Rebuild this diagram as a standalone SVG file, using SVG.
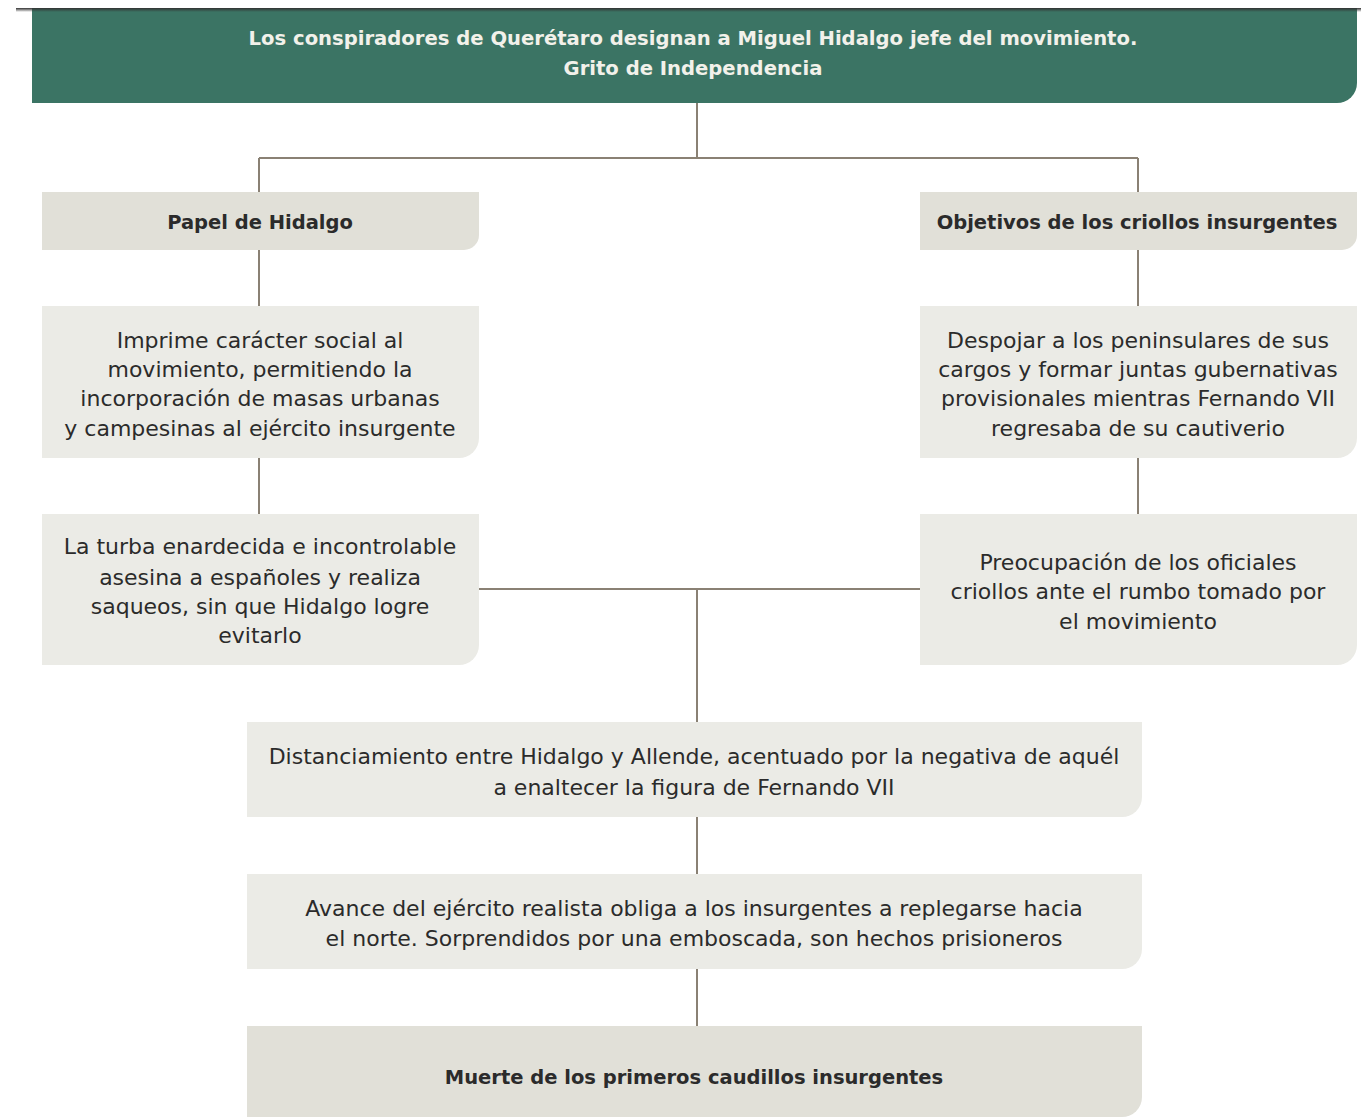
<svg xmlns="http://www.w3.org/2000/svg" width="1363" height="1117" viewBox="0 0 1363 1117">
<style>
.t{font-family:"DejaVu Sans","Noto Sans","Liberation Sans",sans-serif;font-size:22px;fill:#2b2b2b;text-anchor:middle}
.b{font-weight:bold;font-size:19.5px}
.h{font-family:"DejaVu Sans","Noto Sans","Liberation Sans",sans-serif;font-size:19.6px;font-weight:bold;fill:#f2f1ea;text-anchor:middle}
.light{fill:#ebebe6}
.dark{fill:#e1e0d8}
.c{stroke:#8a8174;stroke-width:2;fill:none}
</style>
<defs>
<linearGradient id="sh" x1="0" y1="0" x2="0" y2="1">
<stop offset="0" stop-color="#333"/>
<stop offset="1" stop-color="#333" stop-opacity="0"/>
</linearGradient>
</defs>
<rect width="1363" height="1117" fill="#fff"/>
<g id="connectors">
<path class="c" d="M697 103V158M259 158H1138M259 158V192M1138 158V192"/>
<path class="c" d="M259 250V306M259 458V514M1138 250V306M1138 458V514"/>
<path class="c" d="M479 589H920M697 589V722M697 817V874M697 969V1026"/>
</g>
<g id="header">
<path d="M32 8H1357V83A20 20 0 0 1 1337 103H32Z" fill="#3b7464"/>
<rect x="16" y="8" width="1345" height="4" fill="url(#sh)"/>
<text class="h" x="693" y="45">Los conspiradores de Querétaro designan a Miguel Hidalgo jefe del movimiento.</text>
<text class="h" x="693" y="75">Grito de Independencia</text>
</g>
<g id="papel">
<path class="dark" d="M42 192H479V235A15 15 0 0 1 464 250H42Z"/>
<text class="t b" x="260" y="229">Papel de Hidalgo</text>
</g>
<g id="objetivos">
<path class="dark" d="M920 192H1357V235A15 15 0 0 1 1342 250H920Z"/>
<text class="t b" x="1137" y="229">Objetivos de los criollos insurgentes</text>
</g>
<g id="imprime">
<path class="light" d="M42 306H479V438A20 20 0 0 1 459 458H42Z"/>
<text class="t" x="260" y="348">Imprime carácter social al</text>
<text class="t" x="260" y="377">movimiento, permitiendo la</text>
<text class="t" x="260" y="406">incorporación de masas urbanas</text>
<text class="t" x="260" y="436">y campesinas al ejército insurgente</text>
</g>
<g id="despojar">
<path class="light" d="M920 306H1357V438A20 20 0 0 1 1337 458H920Z"/>
<text class="t" x="1138" y="348">Despojar a los peninsulares de sus</text>
<text class="t" x="1138" y="377">cargos y formar juntas gubernativas</text>
<text class="t" x="1138" y="406">provisionales mientras Fernando VII</text>
<text class="t" x="1138" y="436">regresaba de su cautiverio</text>
</g>
<g id="turba">
<path class="light" d="M42 514H479V645A20 20 0 0 1 459 665H42Z"/>
<text class="t" x="260" y="554">La turba enardecida e incontrolable</text>
<text class="t" x="260" y="585">asesina a españoles y realiza</text>
<text class="t" x="260" y="614">saqueos, sin que Hidalgo logre</text>
<text class="t" x="260" y="643">evitarlo</text>
</g>
<g id="preocupacion">
<path class="light" d="M920 514H1357V645A20 20 0 0 1 1337 665H920Z"/>
<text class="t" x="1138" y="570">Preocupación de los oficiales</text>
<text class="t" x="1138" y="599">criollos ante el rumbo tomado por</text>
<text class="t" x="1138" y="629">el movimiento</text>
</g>
<g id="distanciamiento">
<path class="light" d="M247 722H1142V797A20 20 0 0 1 1122 817H247Z"/>
<text class="t" x="694" y="764">Distanciamiento entre Hidalgo y Allende, acentuado por la negativa de aquél</text>
<text class="t" x="694" y="795">a enaltecer la figura de Fernando VII</text>
</g>
<g id="avance">
<path class="light" d="M247 874H1142V949A20 20 0 0 1 1122 969H247Z"/>
<text class="t" x="694" y="916">Avance del ejército realista obliga a los insurgentes a replegarse hacia</text>
<text class="t" x="694" y="946">el norte. Sorprendidos por una emboscada, son hechos prisioneros</text>
</g>
<g id="muerte">
<path class="dark" d="M247 1026H1142V1097A20 20 0 0 1 1122 1117H247Z"/>
<text class="t b" x="694" y="1084">Muerte de los primeros caudillos insurgentes</text>
</g>
</svg>
